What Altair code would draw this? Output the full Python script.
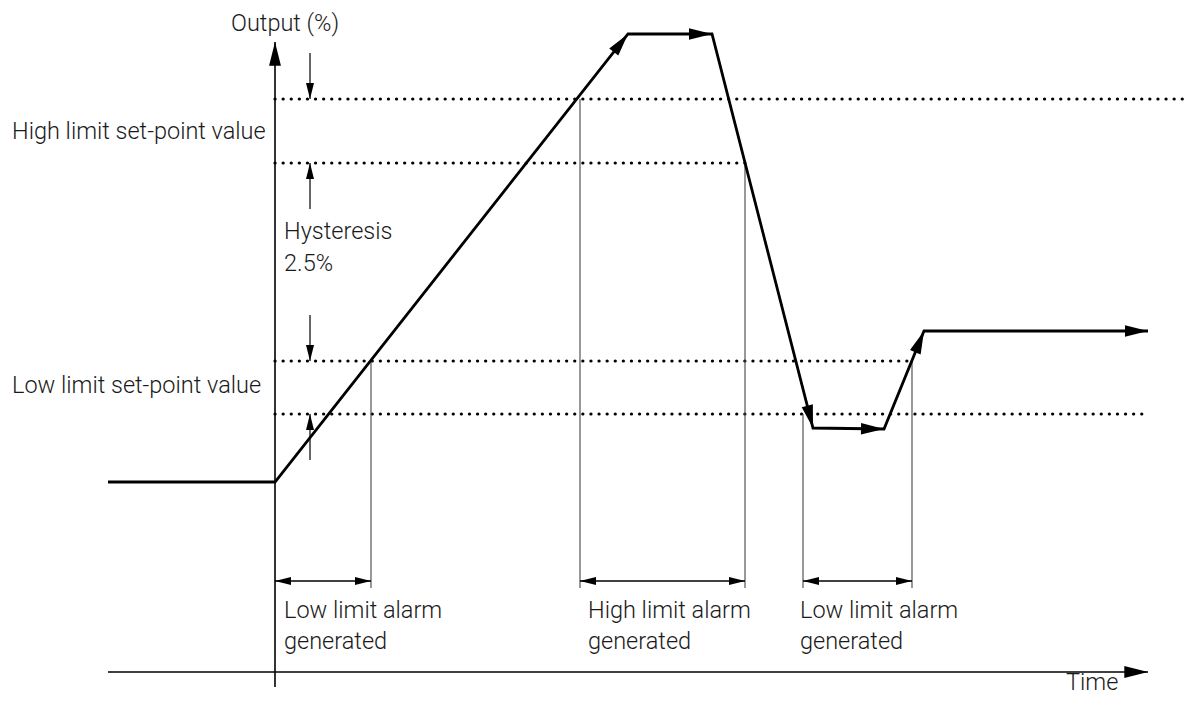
import math
import altair as alt
import pandas as pd

# ---- diagram geometry (schematic units = image pixels) ----
# output signal polyline
sig_x = [108, 275, 628, 712, 813, 884, 924, 1148]
sig_y = [482, 482, 34, 34, 428, 429, 331, 331]
sig_arrow_at = [2, 3, 4, 5, 6, 7]

# set-point / hysteresis dotted levels
thr_y = [99, 163, 361, 414]
thr_x0 = [275, 275, 275, 275]
thr_x1 = [1192, 745, 912, 1145]

# axes (x0, y0) -> (x1, y1), arrow at end
axes_x0 = [275, 108]
axes_y0 = [687, 672]
axes_x1 = [275, 1148]
axes_y1 = [42, 672]

# hysteresis pointer arrows (x, from y, to y)
hyst_x = [310, 310, 310, 310]
hyst_from = [53, 209, 315, 460]
hyst_to = [99, 163, 361, 414]

# alarm intervals
alarm_x0 = [275, 580, 803]
alarm_x1 = [371, 745, 912]
alarm_y = 581
drop_x = [371, 580, 745, 803, 912]
drop_top = [361, 99, 163, 414, 361]
drop_bottom = 588

# labels
lab_text = ["Output (%)", "High limit set-point value", "Hysteresis", "2.5%",
            "Low limit set-point value",
            "Low limit alarm", "generated",
            "High limit alarm", "generated",
            "Low limit alarm", "generated", "Time"]
lab_x = [231, 12, 284, 284, 12, 284, 284, 588, 588, 800, 800, 1066]
lab_y = [31, 139, 239, 271, 393, 618, 649, 618, 649, 618, 649, 690]

BIG = 529
SMALL = 256
AXIS = 560


def ang(x0, y0, x1, y1):
    return math.degrees(math.atan2(x1 - x0, -(y1 - y0))) % 360


heads = []
for i in sig_arrow_at:
    heads.append(dict(x=sig_x[i], y=sig_y[i],
                      angle=ang(sig_x[i - 1], sig_y[i - 1], sig_x[i], sig_y[i]), size=BIG))
for a, b, c, d in zip(axes_x0, axes_y0, axes_x1, axes_y1):
    heads.append(dict(x=c, y=d, angle=ang(a, b, c, d), size=AXIS))
for x, f, t in zip(hyst_x, hyst_from, hyst_to):
    heads.append(dict(x=x, y=t, angle=ang(x, f, x, t), size=SMALL))
for a, b in zip(alarm_x0, alarm_x1):
    heads.append(dict(x=a, y=alarm_y, angle=270, size=SMALL))
    heads.append(dict(x=b, y=alarm_y, angle=90, size=SMALL))
heads_df = pd.DataFrame(heads)

sig_df = pd.DataFrame({"x": sig_x, "y": sig_y, "o": list(range(len(sig_x)))})
thr_df = pd.DataFrame({"x": thr_x0, "x2": thr_x1, "y": thr_y})
axes_df = pd.DataFrame({"x": axes_x0, "y": axes_y0, "x2": axes_x1, "y2": axes_y1})
hyst_df = pd.DataFrame({"x": hyst_x, "y": hyst_from, "y2": hyst_to})
alarm_df = pd.DataFrame({"x": alarm_x0, "x2": alarm_x1, "y": [alarm_y] * 3})
drop_df = pd.DataFrame({"x": drop_x, "y": drop_top, "y2": [drop_bottom] * len(drop_x)})
lab_df = pd.DataFrame({"x": lab_x, "y": lab_y, "t": lab_text})

W, H = 1176, 687
xs = alt.Scale(domain=[8, 8 + W], range=[0, W], nice=False, zero=False)
ys = alt.Scale(domain=[8 + H, 8], range=[H, 0], nice=False, zero=False)
X = lambda f="x": alt.X(f"{f}:Q", scale=xs, axis=None)
Y = lambda f="y": alt.Y(f"{f}:Q", scale=ys, axis=None)

dotted = alt.Chart(thr_df).mark_rule(
    color="black", strokeWidth=3.2, strokeDash=[0.1, 8], strokeCap="round"
).encode(x=X(), x2="x2:Q", y=Y())

drops = alt.Chart(drop_df).mark_rule(color="#444", strokeWidth=1.1).encode(
    x=X(), y=Y(), y2="y2:Q")

alarms = alt.Chart(alarm_df).mark_rule(color="black", strokeWidth=1.3).encode(
    x=X(), x2="x2:Q", y=Y())

hyst = alt.Chart(hyst_df).mark_rule(color="black", strokeWidth=1.2).encode(
    x=X(), y=Y(), y2="y2:Q")

axes = alt.Chart(axes_df).mark_rule(color="black", strokeWidth=1.6).encode(
    x=X(), y=Y(), x2="x2:Q", y2="y2:Q")

signal = alt.Chart(sig_df).mark_line(
    color="black", strokeWidth=2.8, strokeJoin="miter", strokeCap="butt"
).encode(x=X(), y=Y(), order="o:Q")

arrowheads = alt.Chart(heads_df).mark_point(
    shape="M0,0L0.5,2L-0.5,2Z", filled=True, color="black", opacity=1, strokeWidth=0
).encode(x=X(), y=Y(), angle=alt.Angle("angle:Q", scale=None),
         size=alt.Size("size:Q", scale=None))

labels = alt.Chart(lab_df).mark_text(
    align="left", baseline="alphabetic", font="Roboto", fontWeight=300, fontSize=23.5,
    color="#1a1a1a"
).encode(x=X(), y=Y(), text="t:N")

chart = alt.layer(dotted, drops, alarms, hyst, axes, signal, arrowheads, labels).properties(
    width=W, height=H,
    autosize=alt.AutoSizeParams(type="none"),
    padding=0,
).configure_view(stroke=None)

chart.save("out.html", embed_options={"renderer": "svg", "actions": False})
